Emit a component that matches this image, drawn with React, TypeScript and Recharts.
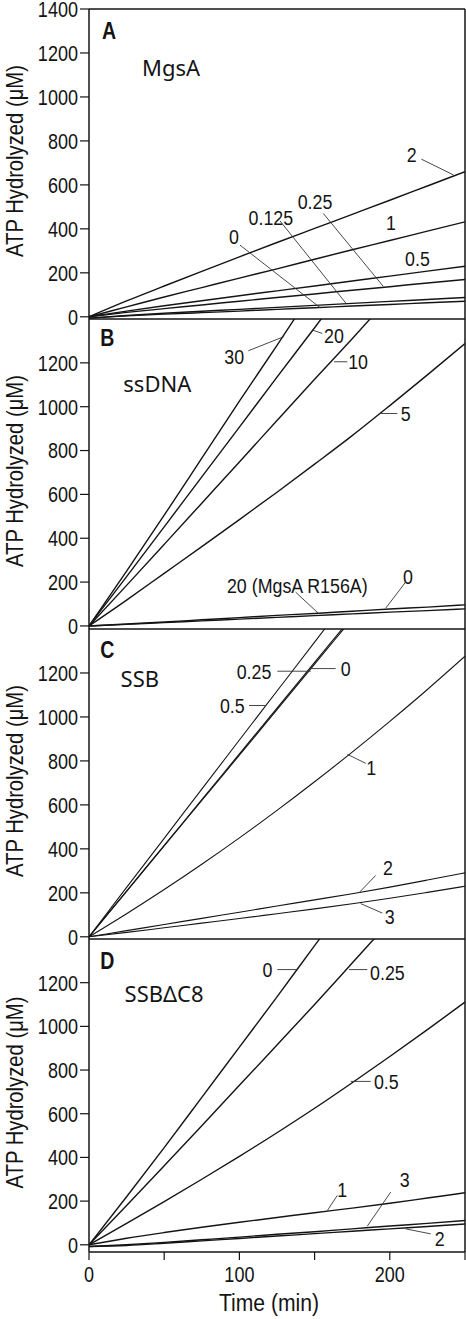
import React from "react";
import { LineChart, Line, XAxis, YAxis, ReferenceLine, ReferenceDot } from "recharts";

// time points (min)
const times = [0, 25, 50, 75, 100, 125, 150, 175, 200, 225, 250];

// A – MgsA titration (µM ATP hydrolyzed)
const mgsA_2 = [0, 72, 140, 207, 273, 338, 402, 466, 530, 595, 660];
const mgsA_1 = [0, 45, 90, 133, 176, 218, 262, 305, 347, 390, 432];
const mgsA_05 = [0, 26, 50, 73, 96, 118, 140, 163, 185, 208, 230];
const mgsA_025 = [0, 20, 37, 54, 71, 88, 104, 121, 137, 154, 170];
const mgsA_0125 = [-6, 6, 16, 25, 34, 43, 52, 61, 70, 79, 88];
const mgsA_0 = [-6, 4, 12, 19, 26, 34, 41, 49, 56, 64, 71];

// B – ssDNA titration
const ss_30 = [0, 250, 505, 765, 1025, 1280, 1540, null, null, null, null];
const ss_20 = [0, 225, 452, 680, 907, 1135, 1360, 1590, null, null, null];
const ss_10 = [0, 185, 372, 560, 748, 937, 1125, 1310, 1500, null, null];
const ss_5 = [0, 118, 240, 362, 485, 610, 738, 868, 1005, 1145, 1288];
const ss_0 = [0, 9, 18, 28, 38, 48, 57, 67, 77, 86, 96];
const ss_mut = [0, 7, 15, 23, 31, 39, 47, 55, 63, 70, 78];

// C – SSB titration
const ssb_05 = [0, 225, 448, 672, 895, 1118, 1340, 1565, null, null, null];
const ssb_025 = [0, 208, 416, 624, 832, 1040, 1248, 1456, null, null, null];
const ssb_0 = [0, 207, 413, 620, 826, 1033, 1240, 1447, null, null, null];
const ssb_1 = [0, 105, 215, 330, 450, 575, 705, 840, 980, 1125, 1276];
const ssb_2 = [0, 28, 56, 84, 112, 140, 168, 196, 226, 258, 291];
const ssb_3 = [0, 20, 41, 62, 83, 105, 127, 150, 175, 202, 230];

// D – SSBΔC8 titration
const dc8_0 = [0, 220, 445, 675, 905, 1135, 1370, 1600, null, null, null];
const dc8_025 = [0, 180, 362, 545, 730, 915, 1100, 1290, 1480, null, null];
const dc8_05 = [0, 98, 198, 300, 405, 513, 625, 742, 862, 985, 1111];
const dc8_1 = [0, 30, 56, 80, 103, 125, 147, 168, 190, 214, 238];
const dc8_3 = [-8, 0, 11, 23, 35, 48, 60, 73, 86, 98, 111];
const dc8_2 = [-8, -3, 7, 18, 29, 40, 51, 62, 73, 84, 95];

const yTicksFull = [0, 200, 400, 600, 800, 1000, 1200, 1400];
const yTicksShort = [0, 200, 400, 600, 800, 1000, 1200];
const xTicks = [0, 50, 100, 150, 200, 250];
const xLabelled = [0, 100, 200];

const FONT = '"Liberation Sans", Arial, sans-serif';
const SANS = '"Noto Sans", "Open Sans", sans-serif';
const INK = "#141414";

type Note = [string, number, number];
type Leader = [number, number, number, number];

const panels = [
  {
    top: 0, first: true, last: false, min: -10, plotH: 310, yTicks: yTicksFull, lw: 1.4,
    letter: ["A", 13.3, 1301] as Note, title: ["MgsA", 54.5, 1133] as Note,
    series: [mgsA_2, mgsA_1, mgsA_05, mgsA_025, mgsA_0125, mgsA_0],
    notes: [["2", 214.5, 740], ["0.25", 150.3, 523], ["0.125", 120.9, 451], ["0", 96.3, 365], ["1", 200.7, 428], ["0.5", 218.4, 265]] as Note[],
    leaders: [[221, 717, 242.4, 645], [155.8, 470, 195.7, 138], [127, 436, 171.3, 58], [100.4, 326, 153.6, 42]] as Leader[],
  },
  {
    top: 307, first: false, last: false, min: -14, plotH: 310, yTicks: yTicksShort, lw: 1.4,
    letter: ["B", 12.2, 1316] as Note, title: ["ssDNA", 45.4, 1103] as Note,
    series: [ss_30, ss_20, ss_10, ss_5, ss_0, ss_mut],
    notes: [["30", 96.6, 1228], ["20", 162.9, 1323], ["10", 178.9, 1205], ["5", 210.6, 969], ["20 (MgsA R156A)", 138.5, 184], ["0", 212.1, 227]] as Note[],
    leaders: [[105.9, 1255, 129.7, 1320], [155.1, 1334, 148.9, 1349], [171.8, 1205, 162.9, 1205], [205, 969, 192.8, 969], [137.4, 154, 152.9, 55], [210.5, 200, 197.3, 81]] as Leader[],
  },
  {
    top: 617, first: false, last: false, min: -10, plotH: 310, yTicks: yTicksShort, lw: 1.1,
    letter: ["C", 12.2, 1306] as Note, title: ["SSB", 33.8, 1173] as Note,
    series: [ssb_05, ssb_025, ssb_0, ssb_1, ssb_2, ssb_3],
    notes: [["0.25", 109.7, 1208], ["0", 170.7, 1220], ["0.5", 95.3, 1052], ["1", 187.7, 769], ["2", 198.8, 317], ["3", 199.9, 93]] as Note[],
    leaders: [[125.2, 1208, 147.4, 1208], [164, 1220, 147.4, 1220], [106.4, 1052, 117.5, 1052], [184, 789, 171.8, 830], [190.6, 279, 179.5, 200], [195, 108, 180.6, 151]] as Leader[],
  },
  {
    top: 927, first: false, last: true, min: -33, plotH: 313, yTicks: yTicksShort, lw: 1.4,
    letter: ["D", 12.2, 1298] as Note, title: ["SSB\u0394C8", 49.9, 1146] as Note,
    series: [dc8_0, dc8_025, dc8_05, dc8_1, dc8_3, dc8_2],
    notes: [["0", 118.6, 1260], ["0.25", 198.4, 1245], ["0.5", 197.7, 748], ["1", 168.4, 253], ["3", 209.9, 299], ["2", 233.2, 27]] as Note[],
    leaders: [[125.2, 1260, 138.5, 1260], [185, 1260, 172.9, 1260], [187.3, 748, 174, 748], [165.1, 226, 158.5, 157], [200.6, 241, 185, 85], [227.2, 50, 210.5, 73]] as Leader[],
  },
];

function rows(series: (number | null)[][]) {
  return times.map((t, i) => {
    const r: Record<string, number | null> = { t };
    series.forEach((s, j) => {
      r["s" + j] = s[i];
    });
    return r;
  });
}

// condensed text: the figure uses a narrow grotesque, squeeze Liberation Sans horizontally
function narrow(
  x: number, y: number, text: string, size: number,
  opts: { sx?: number; anchor?: string; dy?: string; rotate?: number; weight?: string; family?: string } = {}
) {
  const { sx = 0.82, anchor = "middle", dy = "0.355em", rotate = 0, weight, family = FONT } = opts;
  return (
    <text
      transform={`translate(${x},${y}) rotate(${rotate}) scale(${sx},1)`}
      textAnchor={anchor}
      dy={dy}
      fontSize={size}
      fontFamily={family}
      fontWeight={weight}
      fill={INK}
    >
      {text}
    </text>
  );
}

const renderXTick = (props: any) => {
  const { x, y, payload } = props;
  if (!xLabelled.includes(payload.value)) return <g />;
  return narrow(x, y, String(payload.value), 22, { dy: "0.71em" });
};

const renderYTick = (props: any) => {
  const { x, y, payload } = props;
  return narrow(x, y, String(payload.value), 22, { anchor: "end" });
};

function note(n: Note, key: string, render: (x: number, y: number, s: string) => React.ReactElement) {
  return (
    <ReferenceDot
      key={key}
      x={n[1]}
      y={n[2]}
      r={0}
      fill="none"
      stroke="none"
      ifOverflow="visible"
      label={(lp: any) => {
        const vb = lp.viewBox || { x: 0, y: 0, width: 0, height: 0 };
        return render(vb.x + (vb.width || 0) / 2, vb.y + (vb.height || 0) / 2, n[0]);
      }}
    />
  );
}

function Panel({ p }: { p: (typeof panels)[number] }) {
  const mTop = p.first ? 9 : 12;
  const mBottom = p.last ? 0 : 12;
  const axisH = p.last ? 67 : 0;
  const h = mTop + p.plotH + axisH + mBottom;
  const midY = mTop + p.plotH / 2 - 3;
  return (
    <div style={{ position: "absolute", left: 0, top: p.top }}>
      <LineChart width={466} height={h} data={rows(p.series)} margin={{ top: mTop, right: 1, bottom: mBottom, left: 0 }}>
        <XAxis
          dataKey="t"
          type="number"
          domain={[0, 250]}
          allowDataOverflow
          ticks={p.last ? xTicks : []}
          interval={0}
          tick={p.last ? renderXTick : false}
          tickSize={8}
          tickMargin={6}
          height={axisH}
          axisLine={{ stroke: INK, strokeWidth: 1.5 }}
          tickLine={{ stroke: INK, strokeWidth: 1.2 }}
          label={p.last ? () => narrow(269, h - 17, "Time (min)", 24, { sx: 0.88 }) : undefined}
        />
        <YAxis
          type="number"
          domain={[p.min, 1400]}
          allowDataOverflow
          ticks={p.yTicks}
          interval={0}
          width={89}
          tickSize={9}
          tickMargin={2}
          axisLine={{ stroke: INK, strokeWidth: 1.5 }}
          tickLine={{ stroke: INK, strokeWidth: 1.2 }}
          tick={renderYTick}
          label={() => narrow(14.5, midY, "ATP Hydrolyzed (\u03bcM)", 23, { rotate: -90, sx: 0.88 })}
        />
        <ReferenceLine y={1400} stroke={INK} strokeWidth={1.5} />
        <ReferenceLine x={250} stroke={INK} strokeWidth={1.5} />
        {p.series.map((_, j) => (
          <Line
            key={j}
            dataKey={"s" + j}
            type="monotone"
            stroke={INK}
            strokeWidth={p.lw}
            dot={false}
            activeDot={false}
            isAnimationActive={false}
          />
        ))}
        {p.leaders.map((l, k) => (
          <ReferenceLine
            key={"l" + k}
            segment={[{ x: l[0], y: l[1] }, { x: l[2], y: l[3] }]}
            stroke="#333"
            strokeWidth={0.9}
          />
        ))}
        {p.notes.map((n, k) => note(n, "n" + k, (x, y, s) => narrow(x, y, s, 21, { sx: 0.85 })))}
        {note(p.letter, "letter", (x, y, s) => narrow(x, y, s, 23, { sx: 0.85, weight: "bold" }))}
        {note(p.title, "title", (x, y, s) => narrow(x, y, s, 22, { sx: 1, family: SANS }))}
      </LineChart>
    </div>
  );
}

export default function App() {
  return (
    <div style={{ position: "absolute", left: 0, top: 0, width: 466, height: 1319, background: "#fff" }}>
      {panels.map((p, i) => (
        <Panel key={i} p={p} />
      ))}
    </div>
  );
}
